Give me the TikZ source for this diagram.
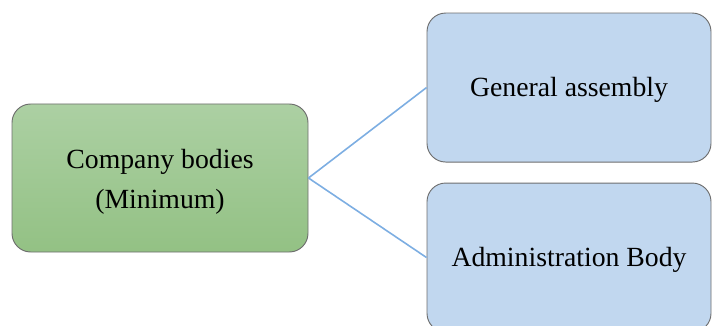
\documentclass[tikz,border=0pt]{standalone}
\usepackage{fontspec}
\setmainfont{Liberation Serif}
\definecolor{boxgreenA}{HTML}{ACD0A3}
\definecolor{boxgreenB}{HTML}{93C184}
\definecolor{boxblue}{HTML}{C1D7EF}
\definecolor{boxline}{HTML}{6E6E6E}
\definecolor{linkblue}{HTML}{7DAEE2}
\tikzset{
  body/.style={shape=rectangle,rounded corners=14pt,draw=boxline,line width=0.7pt,
    align=center,font=\fontsize{20.8}{30}\selectfont,inner sep=0pt},
  link/.style={draw=linkblue,line width=1.2pt}
}

\begin{document}
\begin{tikzpicture}
\useasboundingbox (0,0) rectangle (534pt,243.75pt);
\begin{scope}
\clip (0,0) rectangle (534pt,243.75pt);
\node[body,top color=boxgreenA,bottom color=boxgreenB,minimum width=222pt,minimum height=111pt,text height=50.5pt,text depth=4.5pt] (bodies) at (120pt,110.25pt) {Company bodies\\(Minimum)};
\node[body,fill=boxblue,minimum width=213pt,minimum height=111.75pt,text height=18.5pt,text depth=4.5pt] (assembly) at (426.75pt,178.1pt) {General assembly};
\node[body,fill=boxblue,minimum width=213pt,minimum height=111.75pt,text height=18.5pt,text depth=4.5pt] (admin) at (426.75pt,50.6pt) {Administration Body};

\path[link] (bodies.east) edge (assembly.west);
\path[link] (bodies.east) edge (admin.west);
\end{scope}
\end{tikzpicture}
\end{document}
